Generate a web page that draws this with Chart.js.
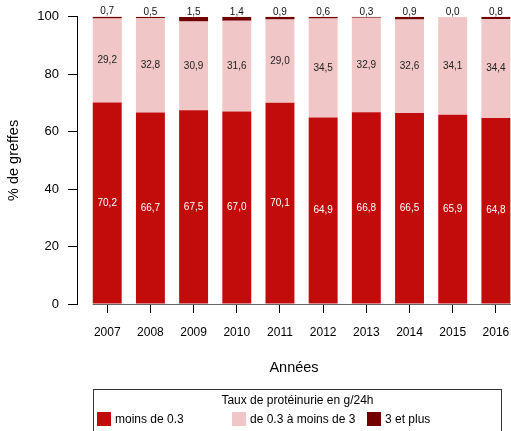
<!DOCTYPE html>
<html>
<head>
<meta charset="utf-8">
<script src="https://cdn.jsdelivr.net/npm/chart.js@4.4.0/dist/chart.umd.min.js"></script>
<style>
  body { margin: 0; background: #fff; overflow: hidden; font-family: "Liberation Sans", Arial, sans-serif; }
  #wrap { position: relative; width: 511px; height: 431px; }
  #legende { position: absolute; left: 93px; top: 389px; width: 409px; height: 60px; border: 1px solid #333; box-sizing: border-box; }
  #legende .titre { position: absolute; left: 0; width: 100%; top: 3px; text-align: center; font-size: 12px; line-height: 14px; }
  #legende .item { position: absolute; top: 22px; font-size: 12px; line-height: 14px; white-space: nowrap; }
  #legende .carre { display: inline-block; width: 14px; height: 14px; vertical-align: top; margin-right: 4px; }
</style>
</head>
<body>
<div id="wrap">
  <canvas id="graphe" width="511" height="431"></canvas>
  <div id="legende"></div>
</div>
<script>
var annees = ['2007', '2008', '2009', '2010', '2011', '2012', '2013', '2014', '2015', '2016'];
var moins03 = [70.2, 66.7, 67.5, 67.0, 70.1, 64.9, 66.8, 66.5, 65.9, 64.8];
var de03a3 = [29.2, 32.8, 30.9, 31.6, 29.0, 34.5, 32.9, 32.6, 34.1, 34.4];
var plus3 = [0.7, 0.5, 1.5, 1.4, 0.9, 0.6, 0.3, 0.9, 0.0, 0.8];
var yTicks = [0, 20, 40, 60, 80, 100];
var series = ['moins de 0.3', 'de 0.3 à moins de 3', '3 et plus'];
var couleurs = ['#C20B0B', '#F0C6C6', '#720000'];
var police = '"Liberation Sans", Arial, sans-serif';

function points(vals) {
  return vals.map(function (v, i) { return { x: i, y: v }; });
}
function fmt(v) {
  return v.toFixed(1).replace('.', ',');
}

// etiquettes des valeurs + ligne de base
var etiquettes = {
  id: 'etiquettes',
  afterDatasetsDraw: function (chart) {
    var ctx = chart.ctx;
    var y0 = chart.scales.y.getPixelForValue(0);
    var first = chart.getDatasetMeta(0).data[0];
    ctx.save();
    ctx.strokeStyle = '#666';
    ctx.lineWidth = 1;
    ctx.beginPath();
    ctx.moveTo(first.x - first.width / 2, y0 + 0.5);
    ctx.lineTo(chart.width, y0 + 0.5);
    ctx.stroke();

    ctx.font = '10px ' + police;
    ctx.textAlign = 'center';
    ctx.textBaseline = 'middle';
    chart.data.datasets.forEach(function (ds, d) {
      chart.getDatasetMeta(d).data.forEach(function (bar, i) {
        var v = ds.data[i].y;
        if (d === 2) {
          ctx.fillStyle = '#111';
          ctx.fillText(fmt(v), bar.x, bar.y - 5);
        } else {
          ctx.fillStyle = d === 0 ? '#fff' : '#222';
          ctx.fillText(fmt(v), bar.x, (bar.y + bar.base) / 2);
        }
      });
    });
    ctx.restore();
  }
};

var ctx = document.getElementById('graphe').getContext('2d');
var chart = new Chart(ctx, {
  type: 'bar',
  data: {
    datasets: [
      { label: series[0], data: points(moins03), backgroundColor: couleurs[0] },
      { label: series[1], data: points(de03a3), backgroundColor: couleurs[1] },
      { label: series[2], data: points(plus3), backgroundColor: couleurs[2] }
    ]
  },
  options: {
    responsive: false,
    animation: false,
    layout: { padding: { top: 16, left: 0, right: 0, bottom: 50 } },
    datasets: { bar: { barPercentage: 0.67, categoryPercentage: 1 } },
    plugins: { legend: { display: false }, tooltip: { enabled: false } },
    scales: {
      x: {
        type: 'linear',
        stacked: true,
        offset: false,
        min: -0.7,
        max: 9.35,
        afterBuildTicks: function (scale) {
          scale.ticks = annees.map(function (a, i) { return { value: i }; });
        },
        afterFit: function (scale) {
          scale.height = 77;
          scale.paddingLeft = 0;
          scale.paddingRight = 0;
        },
        ticks: {
          autoSkip: false,
          maxRotation: 0,
          padding: 12,
          color: '#000',
          font: { family: police, size: 12, weight: 'normal' },
          callback: function (v) { return annees[v]; }
        },
        grid: { offset: false, drawOnChartArea: false, drawTicks: true, tickLength: 9, color: '#000' },
        border: { display: false },
        title: {
          display: true,
          text: 'Années',
          color: '#000',
          font: { family: police, size: 14.5, weight: 'normal' },
          padding: { top: 20, bottom: 4 }
        }
      },
      y: {
        stacked: true,
        min: 0,
        max: 100,
        afterBuildTicks: function (scale) {
          scale.ticks = yTicks.map(function (t) { return { value: t }; });
        },
        afterFit: function (scale) {
          scale.width = 77;
        },
        ticks: {
          padding: 9,
          color: '#000',
          font: { family: police, size: 13, weight: 'normal' }
        },
        grid: { drawOnChartArea: false, drawTicks: true, tickLength: 9, color: '#000' },
        border: { display: true, color: '#000', width: 1 },
        title: {
          display: true,
          text: '% de greffes',
          color: '#000',
          font: { family: police, size: 14.5, weight: 'normal' },
          padding: { top: 5, bottom: 14 }
        }
      }
    }
  },
  plugins: [etiquettes]
});

// legende facon R
var legende = document.getElementById('legende');
var titre = document.createElement('div');
titre.className = 'titre';
titre.textContent = 'Taux de protéinurie en g/24h';
legende.appendChild(titre);
var gauches = [3, 138, 273];
series.forEach(function (s, i) {
  var item = document.createElement('div');
  item.className = 'item';
  item.style.left = gauches[i] + 'px';
  var carre = document.createElement('span');
  carre.className = 'carre';
  carre.style.background = couleurs[i];
  item.appendChild(carre);
  item.appendChild(document.createTextNode(s));
  legende.appendChild(item);
});
</script>
</body>
</html>
